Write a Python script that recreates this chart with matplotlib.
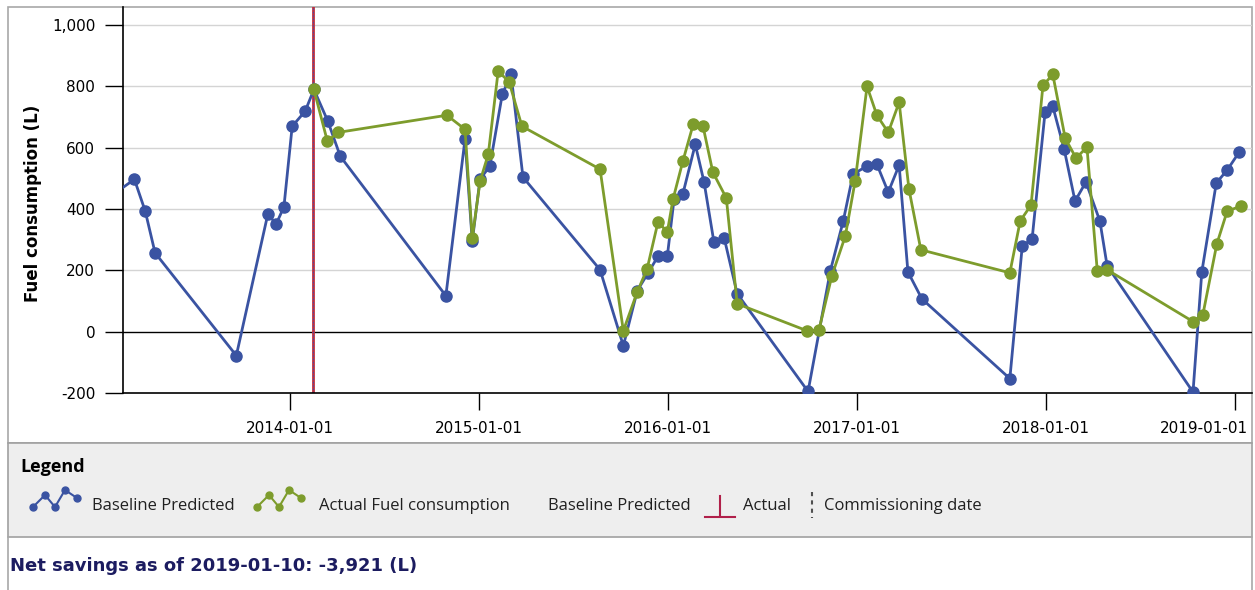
import numpy as np
import pandas as pd
import matplotlib
matplotlib.use("Agg")
import matplotlib.pyplot as plt
import matplotlib.dates as mdates
import matplotlib.transforms as mtransforms
from matplotlib.patches import Rectangle
from matplotlib.lines import Line2D
from matplotlib.ticker import FuncFormatter

# data
baseline_dates = [
    "2013-01-22", "2013-03-06", "2013-03-27", "2013-04-15", "2013-09-19",
    "2013-11-19", "2013-12-05", "2013-12-20", "2014-01-05", "2014-01-30",
    "2014-02-16", "2014-03-15", "2014-04-08", "2014-10-29", "2014-12-05",
    "2014-12-19", "2015-01-03", "2015-01-22", "2015-02-15", "2015-03-04",
    "2015-03-27", "2015-08-23", "2015-10-07", "2015-11-03", "2015-11-24",
    "2015-12-13", "2015-12-31", "2016-01-13", "2016-01-30", "2016-02-23",
    "2016-03-11", "2016-03-30", "2016-04-19", "2016-05-14", "2016-09-28",
    "2016-11-10", "2016-12-05", "2016-12-24", "2017-01-20", "2017-02-08",
    "2017-03-02", "2017-03-23", "2017-04-09", "2017-05-06", "2017-10-23",
    "2017-11-16", "2017-12-05", "2017-12-30", "2018-01-14", "2018-02-05",
    "2018-02-26", "2018-03-19", "2018-04-15", "2018-04-29", "2018-10-12",
    "2018-10-29", "2018-11-26", "2018-12-17", "2019-01-09",
]
baseline_values = [
    445, 497, 393, 257, -78,
    384, 351, 407, 670, 719,
    790, 686, 572, 117, 628,
    295, 497, 540, 774, 839,
    504, 202, -46, 134, 192,
    246, 246, 432, 449, 611,
    488, 293, 305, 124, -195,
    198, 361, 514, 540, 546,
    455, 543, 195, 107, -153,
    280, 302, 715, 735, 595,
    426, 488, 361, 215, -197,
    195, 485, 527, 585,
]

actual_dates = [
    "2014-02-16", "2014-03-14", "2014-04-04", "2014-10-31", "2014-12-05",
    "2014-12-19", "2015-01-03", "2015-01-19", "2015-02-07", "2015-02-28",
    "2015-03-25", "2015-08-23", "2015-10-07", "2015-11-03", "2015-11-22",
    "2015-12-13", "2015-12-31", "2016-01-11", "2016-01-30", "2016-02-19",
    "2016-03-09", "2016-03-28", "2016-04-23", "2016-05-14", "2016-09-26",
    "2016-10-19", "2016-11-13", "2016-12-09", "2016-12-28", "2017-01-20",
    "2017-02-08", "2017-03-02", "2017-03-23", "2017-04-11", "2017-05-04",
    "2017-10-23", "2017-11-12", "2017-12-03", "2017-12-26", "2018-01-14",
    "2018-02-07", "2018-02-28", "2018-03-21", "2018-04-10", "2018-04-29",
    "2018-10-12", "2018-10-31", "2018-11-27", "2018-12-17", "2019-01-13",
]
actual_values = [
    790, 621, 650, 706, 660,
    305, 490, 579, 849, 816,
    670, 530, 3, 130, 205,
    358, 325, 432, 556, 676,
    670, 520, 436, 91, 3,
    5, 182, 312, 491, 800,
    706, 650, 748, 465, 267,
    192, 361, 413, 803, 839,
    631, 566, 602, 198, 202,
    33, 55, 286, 393, 410,
]

commissioning_date = "2014-02-14"
year_ticks = ["2014-01-01", "2015-01-01", "2016-01-01", "2017-01-01",
              "2018-01-01", "2019-01-01"]
y_ticks = [-200, 0, 200, 400, 600, 800, 1000]
net_savings_text = "Net savings as of 2019-01-10: -3,921 (L)"

BLUE = "#3a53a2"
GREEN = "#7d9c2c"
RED = "#c0303c"

W, H = 1255, 590


def fx(px):
    return px / W


def fy(py):
    return 1 - py / H


fig = plt.figure(figsize=(W / 100, H / 100), dpi=100)

# frames behind everything
fig.patches.append(Rectangle((fx(8), fy(443)), fx(1252) - fx(8), fy(7) - fy(443),
                             transform=fig.transFigure, facecolor="white",
                             edgecolor="#a8a8a8", lw=1.2, zorder=-5))
fig.patches.append(Rectangle((fx(8), fy(537)), fx(1252) - fx(8), fy(443) - fy(537),
                             transform=fig.transFigure, facecolor="#eeeeee",
                             edgecolor="#a0a0a0", lw=1.2, zorder=-5))
fig.add_artist(Line2D([fx(8), fx(8)], [0, fy(537)], transform=fig.transFigure,
                      color="#a8a8a8", lw=1.2, zorder=-4))
fig.add_artist(Line2D([fx(1252), fx(1252)], [0, fy(537)], transform=fig.transFigure,
                      color="#a8a8a8", lw=1.2, zorder=-4))

ax = fig.add_axes([fx(123), fy(393), fx(1252) - fx(123), fy(7) - fy(393)])
ax.patch.set_alpha(0)

bd = pd.to_datetime(baseline_dates)
ad = pd.to_datetime(actual_dates)

for v in y_ticks[2:]:
    ax.axhline(v, color="#d4d4d4", lw=1, zorder=1)
ax.axhline(0, color="black", lw=1, zorder=1)

cd = pd.Timestamp(commissioning_date)
ax.axvline(cd, color=RED, lw=2, zorder=2)
ax.axvline(cd, color="#3050c0", lw=0.6, ls=(0, (2, 2)), zorder=2)

ax.plot(bd, baseline_values, color=BLUE, lw=2, marker="o", ms=8, zorder=3)
ax.plot(ad, actual_values, color=GREEN, lw=2, marker="o", ms=8, zorder=4)

ax.set_xlim(pd.Timestamp("2013-02-12"), pd.Timestamp("2019-02-03"))
ax.set_ylim(-200, 1059)

ax.set_yticks(y_ticks)
ax.yaxis.set_major_formatter(FuncFormatter(lambda v, p: f"{int(v):,}"))
ax.set_xticks(pd.to_datetime(year_ticks))
ax.xaxis.set_major_formatter(mdates.DateFormatter("%Y-%m-%d"))

for s in ["top", "right"]:
    ax.spines[s].set_visible(False)
for s in ["left", "bottom"]:
    ax.spines[s].set_color("black")
    ax.spines[s].set_linewidth(1.2)

ax.tick_params(axis="y", length=13, width=1, pad=7, labelsize=11)
ax.tick_params(axis="x", length=12, width=1, pad=8, labelsize=11)

# last date label sits right-aligned inside the frame
last = ax.get_xticklabels()[-1]
last.set_horizontalalignment("right")
last.set_transform(last.get_transform() +
                   mtransforms.ScaledTranslation(0.13, 0, fig.dpi_scale_trans))

fig.text(fx(33), fy(203), "Fuel consumption (L)", rotation=90, ha="center",
         va="center", fontsize=12, fontweight="bold")

# legend panel
fig.text(fx(20), fy(467), "Legend", ha="left", va="center", fontsize=13,
         fontweight="bold", family=["Open Sans", "DejaVu Sans"])

icon_x = [0, 12, 22, 32, 44]
icon_y = [507, 495, 507, 490, 498]
for x0, col in [(33, BLUE), (257, GREEN)]:
    fig.add_artist(Line2D([fx(x0 + dx) for dx in icon_x], [fy(v) for v in icon_y],
                          transform=fig.transFigure, color=col, lw=1.5,
                          marker="o", ms=5))

fig.add_artist(Line2D([fx(720), fx(720)], [fy(496), fy(516)],
                      transform=fig.transFigure, color="#b0204a", lw=1.5))
fig.add_artist(Line2D([fx(705), fx(735)], [fy(517), fy(517)],
                      transform=fig.transFigure, color="#b0204a", lw=1.5))
fig.add_artist(Line2D([fx(812), fx(812)], [fy(492), fy(518)],
                      transform=fig.transFigure, color="#505050", lw=1.5,
                      ls=(0, (2, 2))))

legend_texts = [(92, "Baseline Predicted"), (319, "Actual Fuel consumption"),
                (548, "Baseline Predicted"), (743, "Actual"),
                (824, "Commissioning date")]
for x0, t in legend_texts:
    fig.text(fx(x0), fy(506), t, ha="left", va="center", fontsize=12,
             family=["Open Sans", "DejaVu Sans"], color="#202020")

fig.text(fx(10), fy(566), net_savings_text, ha="left", va="center",
         fontsize=13, fontweight="bold", color="#1c1c60",
         family=["Liberation Sans Narrow", "DejaVu Sans"])

fig.savefig("out.png", dpi=100)
